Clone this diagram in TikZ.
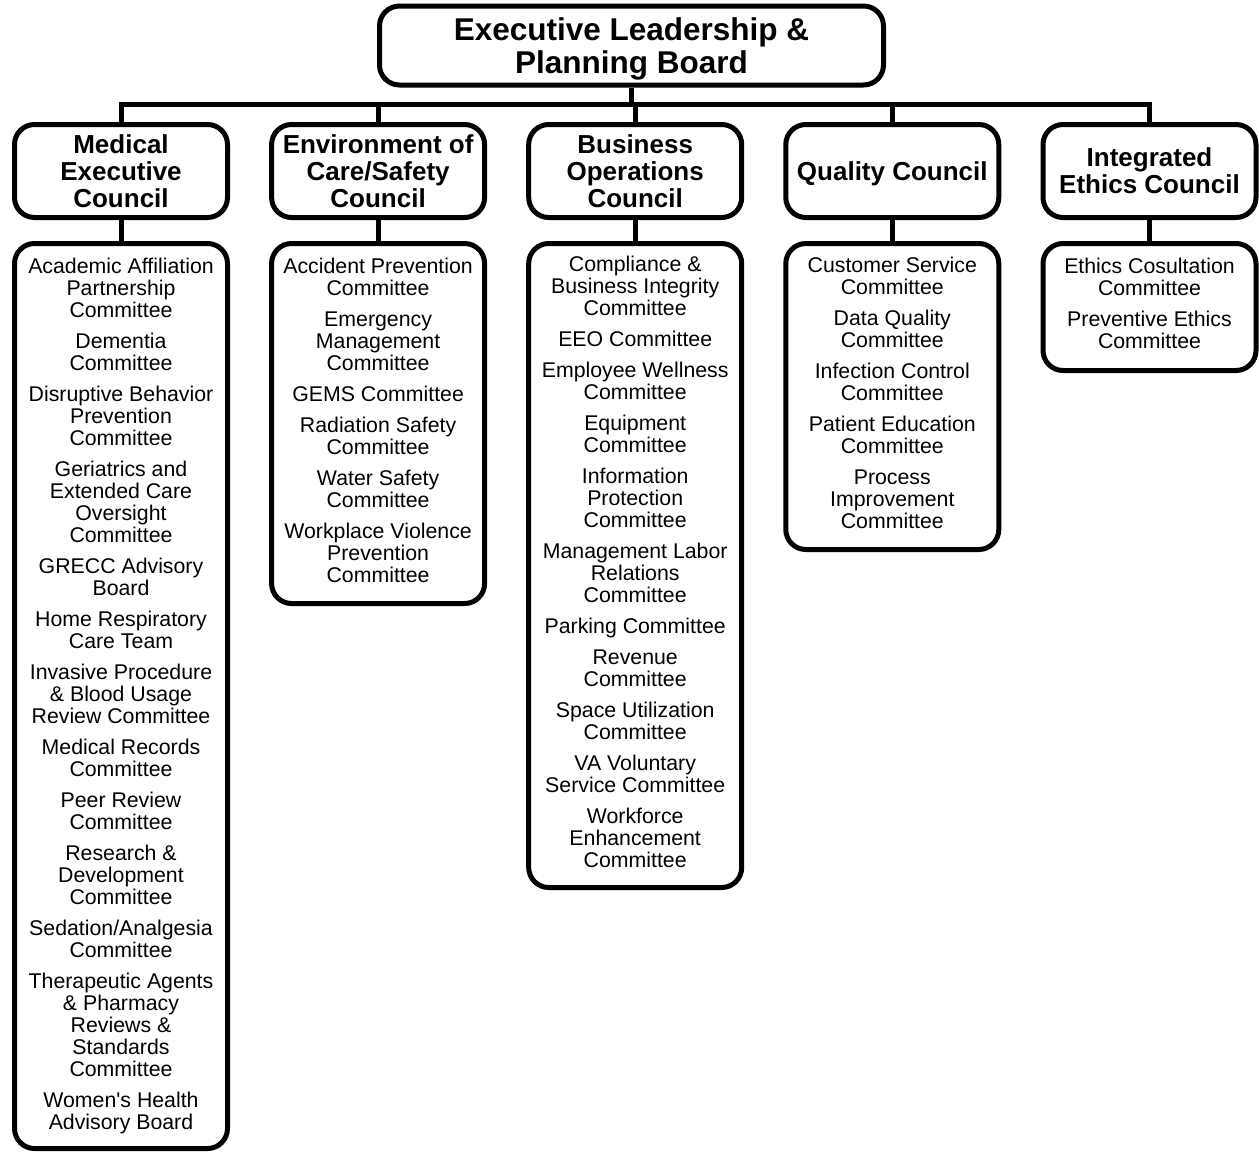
\documentclass[tikz,border=0pt]{standalone}
\usepackage{fontspec}
\setmainfont{Liberation Sans}
\newcommand{\boardfont}{\fontsize{31.5}{33}\selectfont\bfseries}
\newcommand{\councilfont}{\fontsize{26}{27}\selectfont\bfseries}
\newcommand{\cmtfont}{\fontsize{21.3}{22}\selectfont}
\tikzset{
    box/.style={draw, line width=5pt, rounded corners=20pt, align=center, inner sep=0pt},
    board/.style={box, minimum width=504, minimum height=79, font=\boardfont},
    council/.style={box, minimum width=213, minimum height=93, font=\councilfont},
    cmtbox/.style={box, anchor=north, minimum width=213, font=\cmtfont},
    link/.style={line width=5pt, line join=miter}
}
\begin{document}
\begin{tikzpicture}[x=1pt,y=-1pt]
    \useasboundingbox (0,0) rectangle (1259,1152);

    \node[board] (elpb) at (631.5,45.5) {Executive Leadership \&\\\smash{Planning Board}};
    \coordinate (bus) at (631.5,104);

    % councils
    \node[council] (mec) at (121,171) {Medical\\Executive\\Council};
    \node[council] (eoc) at (378.1,171) {Environment of\\Care/Safety\\Council};
    \node[council] (boc) at (635.2,171) {Business\\Operations\\Council};
    \node[council, text depth=0pt] (qc) at (892.3,171) {Quality Council};
    \node[council] (iec) at (1149.5,171) {Integrated\\Ethics Council};

    % committees
    \node[cmtbox, minimum height=905] (meclist) at (121,241) {Academic Affiliation\\Partnership\\Committee\\[9pt]
        Dementia\\Committee\\[9pt]
        Disruptive Behavior\\Prevention\\Committee\\[9pt]
        Geriatrics and\\Extended Care\\Oversight\\Committee\\[9pt]
        GRECC Advisory\\Board\\[9pt]
        Home Respiratory\\Care Team\\[9pt]
        Invasive Procedure\\\& Blood Usage\\Review Committee\\[9pt]
        Medical Records\\Committee\\[9pt]
        Peer Review\\Committee\\[9pt]
        Research \&\\Development\\Committee\\[9pt]
        Sedation/Analgesia\\Committee\\[9pt]
        Therapeutic Agents\\\& Pharmacy\\Reviews \&\\Standards\\Committee\\[9pt]
        Women\textquotesingle s Health\\Advisory Board};
    \node[cmtbox, minimum height=360] (eoclist) at (378.1,241) {Accident Prevention\\Committee\\[9pt]
        Emergency\\Management\\Committee\\[9pt]
        GEMS Committee\\[9pt]
        Radiation Safety\\Committee\\[9pt]
        Water Safety\\Committee\\[9pt]
        Workplace Violence\\Prevention\\Committee\strut};
    \node[cmtbox, minimum height=644] (boclist) at (635.2,241) {Compliance \&\\Business Integrity\\Committee\\[9pt]
        EEO Committee\\[9pt]
        Employee Wellness\\Committee\\[9pt]
        Equipment\\Committee\\[9pt]
        Information\\Protection\\Committee\\[9pt]
        Management Labor\\Relations\\Committee\\[9pt]
        Parking Committee\\[9pt]
        Revenue\\Committee\\[9pt]
        Space Utilization\\Committee\\[9pt]
        VA Voluntary\\Service Committee\\[9pt]
        Workforce\\Enhancement\\Committee\strut};
    \node[cmtbox, minimum height=306] (qclist) at (892.3,241) {Customer Service\\Committee\\[9pt]
        Data Quality\\Committee\\[9pt]
        Infection Control\\Committee\\[9pt]
        Patient Education\\Committee\\[9pt]
        Process\\Improvement\\Committee\strut};
    \node[cmtbox, minimum height=127] (ieclist) at (1149.5,241) {Ethics Cosultation\\Committee\\[9pt]
        Preventive Ethics\\Committee\strut};

    % connectors
    \draw[link] (elpb.south) -- (bus);
    \draw[link] (mec.north) -- (mec.north |- bus) -- (iec.north |- bus) -- (iec.north);
    \foreach \c in {eoc,boc,qc} {
        \draw[link] (\c.north) -- (\c.north |- bus);
    }
    \foreach \c in {mec,eoc,boc,qc,iec} {
        \draw[link] (\c.south) -- (\c list.north);
    }
\end{tikzpicture}
\end{document}
